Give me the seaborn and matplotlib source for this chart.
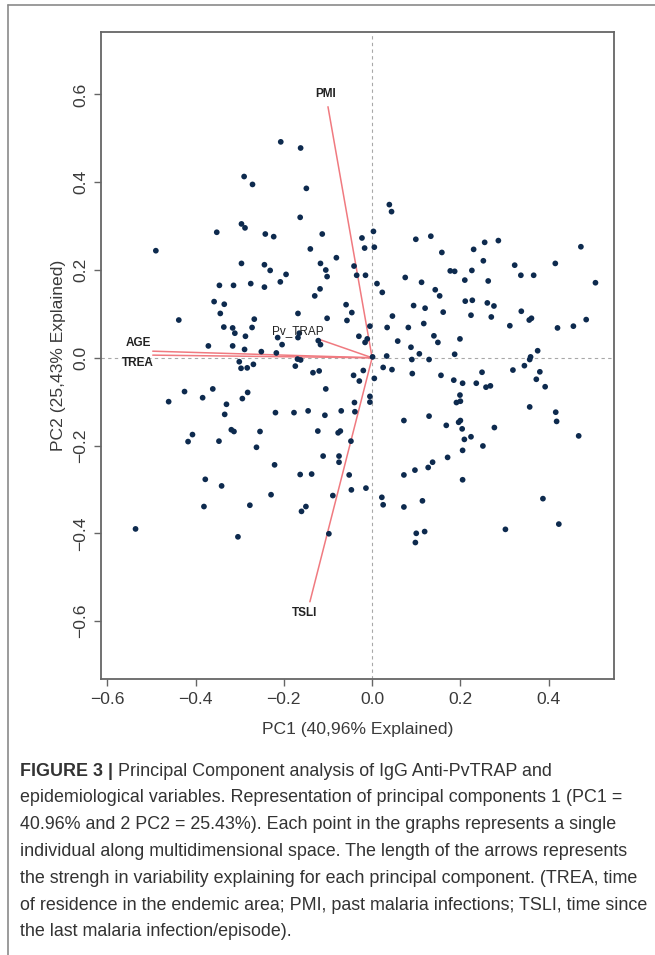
import numpy as np
import pandas as pd
import matplotlib
matplotlib.use("Agg")
import matplotlib.pyplot as plt
import seaborn as sns
from matplotlib.lines import Line2D

sns.set_theme(style="white")
plt.rcParams['font.family'] = ['Liberation Sans', 'DejaVu Sans']

# individual scores on PC1 / PC2
pc1 = [-0.207, -0.290, -0.271, -0.352, -0.296, -0.288, -0.242, -0.223, -0.490,
       -0.162, -0.149, -0.163, 0.039, 0.044, -0.113, 0.003, -0.023, -0.140, -0.017,
       0.005, 0.099, 0.133, 0.158, 0.230, 0.255,
       -0.296, -0.244, -0.231, -0.195, -0.346, -0.314, -0.275, -0.244, -0.208, -0.358,
       -0.335, -0.344, -0.438, -0.267, -0.336, -0.316, -0.311, -0.272, -0.287, -0.214,
       -0.204, -0.371, -0.316, -0.289, -0.251, -0.217, -0.301, -0.297, -0.283, -0.269,
       -0.361, -0.425, -0.384, -0.282, -0.294, -0.461, -0.330,
       -0.117, -0.081, -0.105, -0.102, -0.041, -0.035, -0.015, 0.011, 0.023, 0.075,
       0.112, 0.177, 0.187, 0.226, 0.252, 0.210, 0.263, -0.118, -0.130, 0.143, 0.153,
       -0.059, -0.046, -0.168, -0.102, -0.057, 0.094, 0.120, 0.161, 0.211, 0.227, 0.261,
       0.224, 0.270, 0.276, 0.046, -0.005, 0.034, 0.082, 0.117, -0.030, -0.011, -0.016,
       -0.165, -0.168, -0.122, -0.117, 0.058, 0.140, 0.149, 0.199, 0.088, 0.001, 0.033,
       0.107, 0.090, 0.129, 0.187, -0.169, -0.162, -0.174, 0.025, 0.045, 0.091, 0.156,
       -0.134, -0.120, -0.042, -0.020, -0.029, 0.005, 0.185, 0.205, 0.236, 0.249, 0.258,
       0.268, -0.105, -0.005, -0.005, -0.040, 0.199, 0.200, 0.191,
       -0.334, -0.219, -0.407, -0.417, -0.347, -0.319, -0.313, -0.254, -0.262, -0.221,
       -0.378, -0.341, -0.229, -0.277, -0.381, -0.536, -0.304,
       -0.177, -0.145, -0.107, -0.070, -0.039, -0.123, -0.077, -0.072, -0.048, -0.111,
       -0.075, -0.075, -0.163, -0.137, -0.052, -0.047, -0.014, -0.089, -0.150, -0.160,
       -0.098, 0.022, 0.025, 0.072, 0.129, 0.168, 0.196, 0.200, 0.204, 0.209, 0.224,
       0.251, 0.205, 0.277, 0.171, 0.127, 0.137, 0.097, 0.072, 0.205, 0.114, 0.072,
       0.119, 0.100, 0.098,
       0.286, 0.323, 0.337, 0.366, 0.415, 0.473, 0.506, 0.338, 0.356, 0.361, 0.312,
       0.420, 0.456, 0.485, 0.375, 0.359, 0.357, 0.345, 0.319, 0.380, 0.372, 0.392,
       0.357, 0.416, 0.418, 0.468, 0.387, 0.423, 0.302]
pc2 = [0.492, 0.413, 0.395, 0.286, 0.305, 0.296, 0.282, 0.276, 0.244,
       0.478, 0.386, 0.320, 0.349, 0.333, 0.282, 0.288, 0.273, 0.248, 0.250,
       0.252, 0.270, 0.277, 0.240, 0.247, 0.263,
       0.215, 0.212, 0.199, 0.190, 0.165, 0.165, 0.169, 0.161, 0.173, 0.128,
       0.122, 0.101, 0.086, 0.088, 0.070, 0.068, 0.056, 0.069, 0.049, 0.046,
       0.030, 0.027, 0.027, 0.019, 0.014, 0.011, -0.009, -0.024, -0.023, -0.015,
       -0.071, -0.077, -0.091, -0.079, -0.093, -0.100, -0.106,
       0.215, 0.228, 0.200, 0.185, 0.209, 0.188, 0.188, 0.169, 0.149, 0.183,
       0.172, 0.198, 0.197, 0.199, 0.221, 0.177, 0.175, 0.157, 0.141, 0.155, 0.141,
       0.121, 0.103, 0.101, 0.090, 0.085, 0.119, 0.113, 0.104, 0.129, 0.131, 0.125,
       0.097, 0.093, 0.118, 0.095, 0.072, 0.069, 0.069, 0.078, 0.049, 0.043, 0.035,
       0.056, 0.046, 0.039, 0.030, 0.038, 0.050, 0.035, 0.043, 0.024, 0.002, 0.004,
       0.009, -0.004, -0.004, 0.008, -0.003, -0.005, -0.019, -0.022, -0.027, -0.036, -0.040,
       -0.034, -0.030, -0.040, -0.029, -0.053, -0.047, -0.051, -0.058, -0.058, -0.033, -0.067,
       -0.064, -0.071, -0.088, -0.101, -0.102, -0.085, -0.099, -0.102,
       -0.129, -0.125, -0.175, -0.191, -0.190, -0.164, -0.168, -0.168, -0.204, -0.244,
       -0.277, -0.292, -0.312, -0.336, -0.339, -0.390, -0.408,
       -0.125, -0.121, -0.131, -0.121, -0.123, -0.167, -0.171, -0.167, -0.190, -0.224,
       -0.224, -0.238, -0.266, -0.265, -0.267, -0.301, -0.297, -0.314, -0.339, -0.350,
       -0.401, -0.318, -0.335, -0.143, -0.133, -0.154, -0.147, -0.143, -0.162, -0.186, -0.180,
       -0.201, -0.211, -0.159, -0.227, -0.250, -0.238, -0.256, -0.267, -0.278, -0.326, -0.340,
       -0.396, -0.400, -0.421,
       0.267, 0.211, 0.188, 0.188, 0.215, 0.253, 0.171, 0.106, 0.086, 0.090, 0.073,
       0.068, 0.072, 0.087, 0.016, 0.002, -0.004, -0.018, -0.028, -0.032, -0.049, -0.066,
       -0.112, -0.124, -0.145, -0.178, -0.321, -0.379, -0.391]

# variable loadings (arrow tips) and label positions
var_names = ['PMI', 'TSLI', 'AGE', 'TREA', 'Pv_TRAP']
load_x = [-0.100, -0.141, -0.497, -0.497, -0.120]
load_y = [0.572, -0.556, 0.015, 0.006, 0.042]
lab_x = [-0.105, -0.152, -0.530, -0.530, -0.169]
lab_y = [0.600, -0.581, 0.033, -0.013, 0.061]

x_ticks = [-0.6, -0.4, -0.2, 0.0, 0.2, 0.4]
y_ticks = [-0.6, -0.4, -0.2, 0.0, 0.2, 0.4, 0.6]

caption_head = "FIGURE 3 |"
caption = [
    "Principal Component analysis of IgG Anti-PvTRAP and",
    "epidemiological variables. Representation of principal components 1 (PC1 =",
    "40.96% and 2 PC2 = 25.43%). Each point in the graphs represents a single",
    "individual along multidimensional space. The length of the arrows represents",
    "the strengh in variability explaining for each principal component. (TREA, time",
    "of residence in the endemic area; PMI, past malaria infections; TSLI, time since",
    "the last malaria infection/episode).",
]

df = pd.DataFrame({'PC1': pc1, 'PC2': pc2})

fig = plt.figure(figsize=(6.55, 9.55), dpi=100)
ax = fig.add_axes([0.1537, 0.289, 0.7837, 0.6778])

ax.axhline(0, color='#a8a8a8', lw=0.8, ls=(0, (3, 3)), zorder=1)
ax.axvline(0, color='#a8a8a8', lw=0.8, ls=(0, (3, 3)), zorder=1)

sns.scatterplot(data=df, x='PC1', y='PC2', ax=ax, color='#0d2a4e', s=17,
                edgecolor='none', zorder=3)

for name, vx, vy, tx, ty in zip(var_names, load_x, load_y, lab_x, lab_y):
    ax.plot([0, vx], [0, vy], color='#f07a80', lw=1.1, zorder=2)
    ax.text(tx, ty, name, fontsize=8.5, ha='center', va='center', color='#222222',
            fontweight='normal' if name == 'Pv_TRAP' else 'bold', zorder=4)

ax.set_xlim(-0.615, 0.548)
ax.set_ylim(-0.732, 0.743)
ax.set_xticks(x_ticks)
ax.set_yticks(y_ticks)
ax.set_xticklabels([f"{t:.1f}".replace('-', '\u2212') for t in x_ticks], fontsize=12.6, color='#3a3a3a')
ax.set_yticklabels([f"{t:.1f}".replace('-', '\u2212') for t in y_ticks], fontsize=12.6, color='#3a3a3a',
                   rotation=90, va='center')
ax.tick_params(axis='both', which='both', bottom=True, left=True, length=5, width=1,
               color='#666666', direction='out', pad=4)
for sp in ax.spines.values():
    sp.set_visible(True)
    sp.set_color('#666666')
    sp.set_linewidth(1.3)
ax.set_xlabel('PC1 (40,96% Explained)', fontsize=12.6, color='#3a3a3a', labelpad=11)
ax.set_ylabel('PC2 (25,43% Explained)', fontsize=12.6, color='#3a3a3a', labelpad=5)

# outer frame of the figure panel
fig.add_artist(Line2D([7.5 / 655, 1.0], [1 - 5 / 955, 1 - 5 / 955], color='#8a8a8a', lw=1.2))
fig.add_artist(Line2D([7.5 / 655, 7.5 / 655], [0.0, 1 - 5 / 955], color='#8a8a8a', lw=1.2))

# caption
cap_fs = 12.9
y0 = 1 - 771 / 955
dy = 26.8 / 955
x0 = 20 / 655
head = fig.text(x0, y0, caption_head, fontsize=cap_fs, fontweight='bold', color='#333333', va='center')
fig.canvas.draw()
bb = head.get_window_extent().transformed(fig.transFigure.inverted())
fig.text(bb.x1 + 5 / 655, y0, caption[0], fontsize=cap_fs, color='#333333', va='center')
for i, line in enumerate(caption[1:], start=1):
    fig.text(x0, y0 - i * dy, line, fontsize=cap_fs, color='#333333', va='center')

fig.savefig('out.png', dpi=100)
